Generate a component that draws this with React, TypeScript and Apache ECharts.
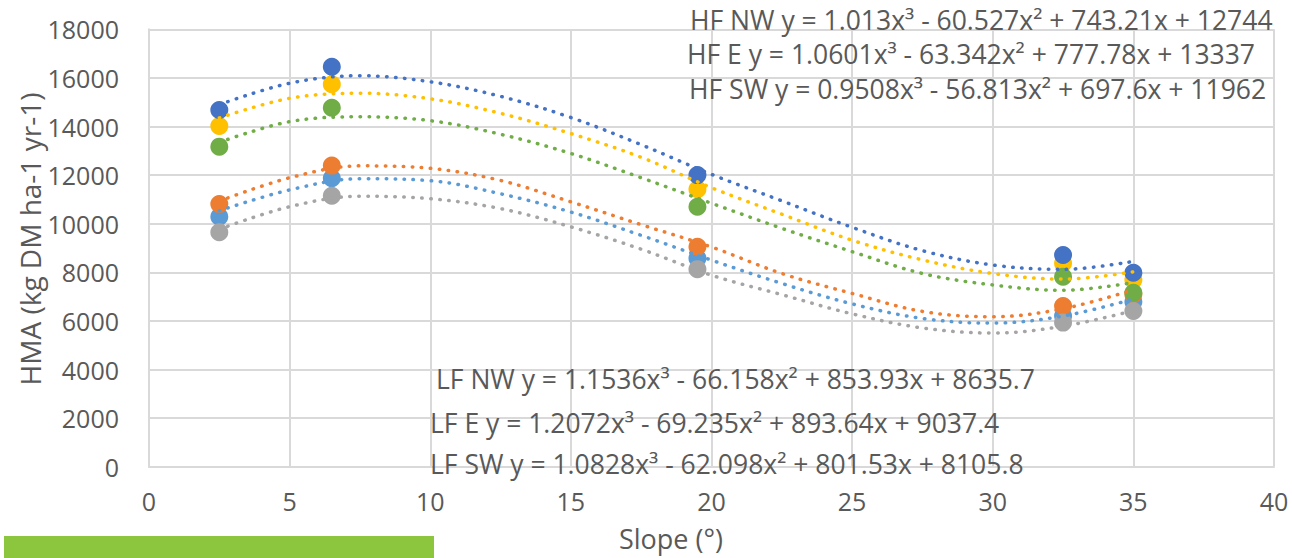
import React, { useEffect, useRef } from "react";
import * as echarts from "echarts";

const slopes = [2.5, 6.5, 19.5, 32.5, 35];
const hfNW = [14680, 16460, 12000, 8710, 7980];
const hfE = [14020, 15740, 11420, 8370, 7680];
const hfSW = [13170, 14770, 10700, 7820, 7160];
const lfNW = [10810, 12390, 9050, 6610, 7100];
const lfE = [10290, 11870, 8580, 6200, 6790];
const lfSW = [9650, 11150, 8130, 5930, 6410];

const trendX = [2.5, 5, 7.5, 10, 12.5, 15, 17.5, 20, 22.5, 25, 27.5, 30, 32.5, 35];
const trendHfNW = [14900, 15780, 16090, 15840, 15240, 14370, 13250, 12030, 10940, 9850, 8890, 8300, 8120, 8450];
const trendHfE = [14350, 15160, 15370, 15140, 14540, 13710, 12730, 11480, 10390, 9320, 8510, 7950, 7720, 8020];
const trendHfSW = [13350, 14200, 14400, 14240, 13680, 12890, 11890, 10840, 9810, 8850, 7950, 7480, 7260, 7580];
const trendLfNW = [10930, 11890, 12380, 12280, 11780, 10900, 9960, 9040, 7950, 7130, 6390, 6170, 6500, 7280];
const trendLfE = [10530, 11390, 11850, 11770, 11230, 10480, 9520, 8500, 7540, 6700, 6100, 5910, 6200, 6900];
const trendLfSW = [9770, 10700, 11130, 11030, 10620, 9870, 8950, 7880, 7080, 6290, 5710, 5500, 5780, 6420];

const equations = [
  "HF NW y = 1.013x³ - 60.527x² + 743.21x + 12744",
  "HF E y = 1.0601x³ - 63.342x² + 777.78x + 13337",
  "HF SW y = 0.9508x³ - 56.813x² + 697.6x + 11962",
  "LF NW y = 1.1536x³ - 66.158x² + 853.93x + 8635.7",
  "LF E y = 1.2072x³ - 69.235x² + 893.64x + 9037.4",
  "LF SW y = 1.0828x³ - 62.098x² + 801.53x + 8105.8",
];

const xTitle = "Slope (°)";
const yTitle = "HMA (kg DM ha-1 yr-1)";

const FONT = "'Open Sans'";
const TXT = "#595959";

const seriesDefs = [
  { name: "LF E", color: "#5B9BD5", pts: lfE, trend: trendLfE },
  { name: "HF E", color: "#FFC000", pts: hfE, trend: trendHfE },
  { name: "LF NW", color: "#ED7D31", pts: lfNW, trend: trendLfNW },
  { name: "LF SW", color: "#A5A5A5", pts: lfSW, trend: trendLfSW },
  { name: "HF NW", color: "#4472C4", pts: hfNW, trend: trendHfNW },
  { name: "HF SW", color: "#70AD47", pts: hfSW, trend: trendHfSW },
];

export default function App() {
  const ref = useRef<HTMLDivElement>(null);
  useEffect(() => {
    document.body.style.margin = "0";
    const chart = echarts.init(ref.current!, null, { renderer: "svg" });
    const series: any[] = [];
    seriesDefs.forEach((d) => {
      series.push({
        type: "scatter",
        name: d.name,
        data: slopes.map((x, i) => [x, d.pts[i]]),
        symbolSize: 18,
        itemStyle: { color: d.color, opacity: 1 },
        z: 2,
      });
    });
    seriesDefs.forEach((d) => {
      series.push({
        type: "line",
        name: d.name + " trend",
        data: trendX.map((x, i) => [x, d.trend[i]]),
        smooth: 0.35,
        showSymbol: false,
        symbol: "none",
        lineStyle: { color: d.color, width: 3.5, type: [0.5, 8.5], cap: "round" },
        z: 3,
      });
    });
    const eqPos = [
      [690, 20],
      [687, 54],
      [689, 89],
      [436, 379],
      [430, 423],
      [430, 464],
    ];
    chart.setOption({
      animation: false,
      grid: { left: 149, right: 18, top: 29.3, bottom: 91.3 },
      xAxis: {
        type: "value",
        min: 0,
        max: 40,
        interval: 5,
        axisLine: { show: true, lineStyle: { color: "#D9D9D9", width: 2 } },
        axisTick: { show: false },
        splitLine: { show: true, lineStyle: { color: "#D9D9D9", width: 2 } },
        axisLabel: { color: TXT, fontSize: 25, fontFamily: FONT, margin: 22 },
      },
      yAxis: {
        type: "value",
        min: 0,
        max: 18000,
        interval: 2000,
        axisLine: { show: true, lineStyle: { color: "#D9D9D9", width: 2 } },
        axisTick: { show: false },
        splitLine: { show: true, lineStyle: { color: "#D9D9D9", width: 2 } },
        axisLabel: { color: TXT, fontSize: 25, fontFamily: FONT, margin: 30, formatter: (v: number) => String(v) },
      },
      series,
      graphic: [
        {
          type: "rect",
          shape: { x: 4, y: 536, width: 430, height: 22 },
          style: { fill: "#8CC63F" },
        },
        {
          type: "text",
          x: 671,
          y: 538,
          style: { text: xTitle, fill: TXT, font: `27px ${FONT}`, align: "center", verticalAlign: "middle" },
        },
        {
          type: "text",
          x: 30,
          y: 239,
          rotation: Math.PI / 2,
          style: { text: yTitle, fill: TXT, font: `28px ${FONT}`, align: "center", verticalAlign: "middle" },
        },
        ...equations.map((t, i) => ({
          type: "text",
          x: eqPos[i][0],
          y: eqPos[i][1],
          z: 10,
          style: { text: t, fill: TXT, font: `26.5px ${FONT}`, align: "left", verticalAlign: "middle" },
        })),
      ],
    });
    return () => chart.dispose();
  }, []);
  return <div ref={ref} style={{ position: "absolute", left: 0, top: 0, width: 1292, height: 558 }} />;
}
